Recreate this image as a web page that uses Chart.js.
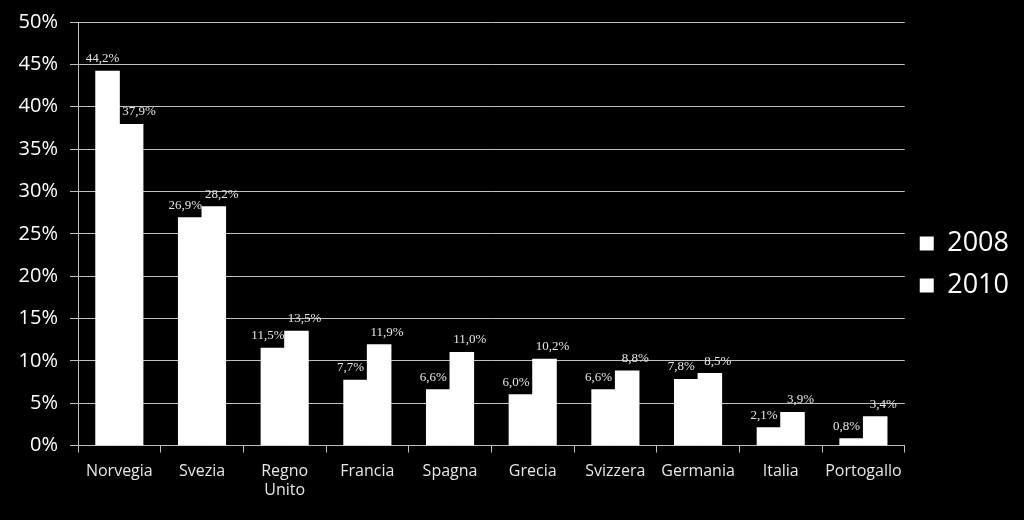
<!DOCTYPE html>
<html>
<head>
<meta charset="utf-8">
<script src="https://cdn.jsdelivr.net/npm/chart.js@4"></script>
<style>
  html, body { margin: 0; padding: 0; background: #000; }
  #wrap { width: 1024px; height: 520px; }
</style>
</head>
<body>
<div id="wrap"><canvas id="chart" width="1024" height="520"></canvas></div>
<script>
// Dati
const paesi = ['Norvegia', 'Svezia', ['Regno', 'Unito'], 'Francia', 'Spagna', 'Grecia', 'Svizzera', 'Germania', 'Italia', 'Portogallo'];
const valori2008 = [44.2, 26.9, 11.5, 7.7, 6.6, 6.0, 6.6, 7.8, 2.1, 0.8];
const valori2010 = [37.9, 28.2, 13.5, 11.9, 11.0, 10.2, 8.8, 8.5, 3.9, 3.4];
const anni = ['2008', '2010'];

const fontSans = '"Open Sans", "DejaVu Sans", sans-serif';

// Etichette sopra le barre (stile Excel, font serif)
const etichette = {
    id: 'etichette',
    afterDatasetsDraw(chart) {
        const ctx = chart.ctx;
        ctx.save();
        ctx.font = '13px "Liberation Serif", "DejaVu Serif", serif';
        ctx.fillStyle = '#e6e6e6';
        ctx.textAlign = 'center';
        ctx.textBaseline = 'bottom';
        chart.data.datasets.forEach((ds, i) => {
            const meta = chart.getDatasetMeta(i);
            const dx = i === 0 ? -5 : 8;
            meta.data.forEach((bar, j) => {
                const txt = ds.data[j].toFixed(1).replace('.', ',') + '%';
                ctx.fillText(txt, bar.x + dx, bar.y - 6);
            });
        });
        ctx.restore();
    }
};

new Chart(document.getElementById('chart').getContext('2d'), {
    type: 'bar',
    data: {
        labels: paesi,
        datasets: [
            { label: anni[0], data: valori2008, backgroundColor: '#ffffff', borderWidth: 0, inflateAmount: 0.5 },
            { label: anni[1], data: valori2010, backgroundColor: '#ffffff', borderWidth: 0, inflateAmount: 0.5 }
        ]
    },
    options: {
        responsive: false,
        animation: false,
        layout: { padding: { top: 20, right: 5, bottom: 11, left: 4 } },
        datasets: { bar: { barPercentage: 1, categoryPercentage: 0.57 } },
        plugins: {
            legend: {
                position: 'right',
                labels: {
                    color: '#ffffff',
                    font: { family: fontSans, size: 27 },
                    boxWidth: 14, boxHeight: 14,
                    padding: 15
                }
            },
            tooltip: { enabled: false }
        },
        scales: {
            x: {
                offset: true,
                grid: { offset: true, drawOnChartArea: false, color: '#bfbfbf', tickLength: 7, tickColor: '#bfbfbf' },
                border: { color: '#bfbfbf' },
                ticks: { color: '#e6e6e6', font: { family: fontSans, size: 16 }, maxRotation: 0, padding: 9 }
            },
            y: {
                min: 0, max: 50,
                afterFit: s => { s.width = 74; },
                grid: { color: '#bfbfbf', tickLength: 8, tickColor: '#bfbfbf' },
                border: { color: '#bfbfbf' },
                ticks: {
                    stepSize: 5,
                    color: '#ffffff',
                    font: { family: fontSans, size: 20, lineHeight: 1 },
                    padding: 12,
                    callback: v => v + '%'
                }
            }
        }
    },
    plugins: [etichette]
});
</script>
</body>
</html>
